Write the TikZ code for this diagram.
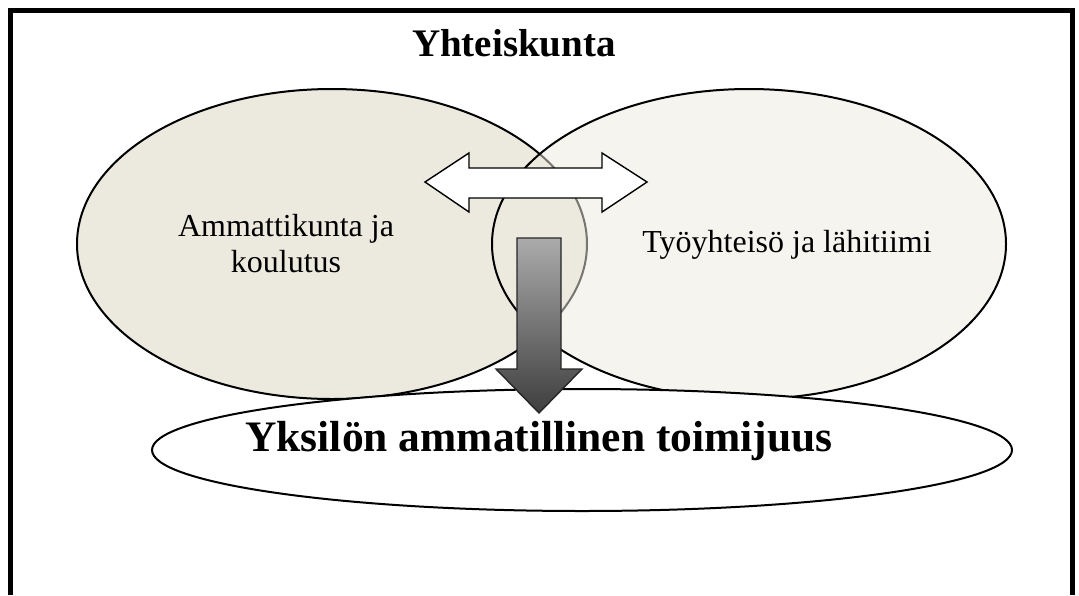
\documentclass[tikz,border=0pt]{standalone}
\usepackage{fontspec}
\setmainfont{Liberation Serif}
\begin{document}
\begin{tikzpicture}[x=1pt,y=-1pt,
  outline/.style={draw=black,line width=2pt},
  blob/.style={outline,fill=beige},
  label/.style={inner sep=0pt,anchor=base,align=center},
  blockarrow/.style={draw=black,line width=1.4pt,line join=miter}]
\definecolor{beige}{HTML}{ECEADF}
\definecolor{shadetop}{HTML}{ABABAB}
\definecolor{shadebot}{HTML}{3E3E3E}
\useasboundingbox (0,0) rectangle (1079,595);
% open frame
\draw[line width=5pt] (10,595) -- (10,10.5) -- (1072,10.5) -- (1072,595);
\node[label,font=\fontsize{39}{44}\selectfont\bfseries] (title) at (514,56.5) {Yhteiskunta};
% the two overlapping circles of the community
\path[blob] (332,244) ellipse [x radius=255, y radius=155];
\path[outline,fill=beige,fill opacity=0.5] (749,244) ellipse [x radius=257, y radius=155];
\node[label,font=\fontsize{32}{36}\selectfont] (prof) at (286,272) {Ammattikunta ja\\koulutus};
\node[label,font=\fontsize{32}{36}\selectfont] (work) at (787,252) {Työyhteisö ja lähitiimi};
% the individual
\path[outline,fill=white] (582,450) ellipse [x radius=430, y radius=61];
\node[label,font=\fontsize{43.5}{48}\selectfont\bfseries] (agency) at (539,451) {Yksilön ammatillinen toimijuus};
% two-way exchange between the circles
\path[blockarrow,fill=white] (425,182) -- (469,153) -- (469,168) -- (602,168) -- (602,153)
  -- (647,182) -- (602,212) -- (602,198) -- (469,198) -- (469,212) -- cycle;
% influence down onto the individual
\path[blockarrow,draw=black!85,top color=shadetop,bottom color=shadebot]
  (517,238) -- (561,238) -- (561,369) -- (582,369) -- (539,413) -- (496,369) -- (517,369) -- cycle;
\end{tikzpicture}
\end{document}
